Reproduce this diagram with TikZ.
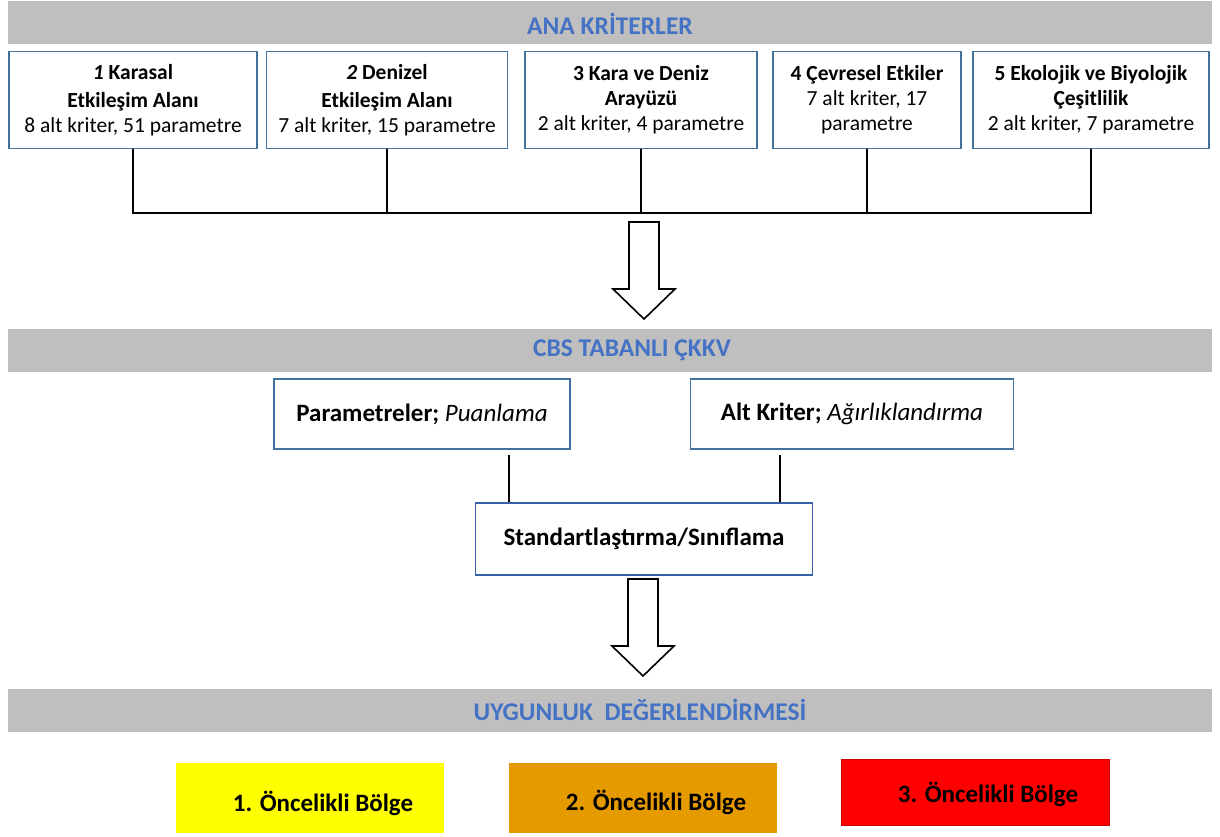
\documentclass[tikz,border=0pt]{standalone}
\usepackage{fontspec}
\setmainfont{Carlito}
\usetikzlibrary{positioning}
\definecolor{barGray}{HTML}{BFBFBF}
\definecolor{headBlue}{HTML}{4472C4}
\definecolor{edgeBlue}{HTML}{41719C}
\definecolor{zoneYellow}{HTML}{FFFF00}
\definecolor{zoneOrange}{HTML}{E59A00}
\definecolor{zoneRed}{HTML}{FF0000}
\tikzset{
  bar/.style={fill=barGray, minimum width=1204pt, minimum height=43pt},
  headtext/.style={text=headBlue, font=\fontsize{25.5}{28}\selectfont\bfseries},
  critbox/.style={draw=edgeBlue, line width=1.6pt, fill=white, align=center,
    minimum height=97pt, inner sep=2pt, font=\fontsize{21.5}{25}\selectfont},
  mcdabox/.style={draw=edgeBlue, line width=1.6pt, minimum height=70pt,
    font=\fontsize{25}{28}\selectfont},
  zone/.style={minimum width=268pt, minimum height=70pt},
  zonetext/.style={font=\fontsize{25}{28}\selectfont\bfseries, xshift=13pt},
  link/.style={line width=1.8pt},
  hollow/.style={draw, line width=1.6pt, fill=white, line join=miter}
}
\begin{document}
\begin{tikzpicture}[x=1pt,y=-1pt]
  \useasboundingbox (0,0) rectangle (1220,836);
  % headers
  \node[bar, label={[headtext, yshift=-2pt]center:ANA KRİTERLER}] (anakrit) at (610,22) {};
  \node[bar, label={[headtext, xshift=22pt]center:CBS TABANLI ÇKKV}] (cbs) at (610,350) {};
  \node[bar, label={[headtext, xshift=30pt]center:UYGUNLUK\ \ DEĞERLENDİRMESİ}] (uyg) at (610,710) {};
  % main criteria
  \foreach \t/\x/\w [count=\i] in {
    {\textbf{\textit{1} Karasal}\\[3pt]\textbf{Etkileşim\ Alanı}\\ 8 alt kriter, 51 parametre}/133/248,
    {\textbf{\textit{2} Denizel}\\[3pt]\textbf{Etkileşim\ Alanı}\\ 7 alt kriter, 15 parametre}/387/241,
    {\textbf{3 Kara ve Deniz}\\ \textbf{Arayüzü}\\ 2 alt kriter, 4 parametre}/641/232,
    {\textbf{4 Çevresel\ Etkiler}\\ 7 alt kriter, 17\\ parametre}/867/188,
    {\textbf{5 Ekolojik ve Biyolojik}\\ \textbf{Çeşitlilik}\\ 2 alt kriter, 7 parametre}/1091/236}
  {\node[critbox, minimum width=\w pt] (k\i) at (\x,100) {\t};}
  \coordinate (bus) at (641,213);
  \draw[link] (k1.south) |- (bus) -| (k5.south);
  \foreach \i in {2,3,4}
    \draw[link] (k\i.south) -- (k\i.south |- bus);
  % mcda steps
  \node[mcdabox, minimum width=296pt] (param) at (422,414) {\textbf{Parametreler;} \textit{Puanlama}};
  \node[mcdabox, minimum width=323pt] (agirlik) at (852,414) {\textbf{Alt Kriter;} \textit{Ağırlıklandırma}};
  \node[mcdabox, minimum width=337pt, minimum height=72pt, draw=headBlue!85!black, line width=1.2pt]
    (stand) at (644,539) {\textbf{Standartlaştırma/Sınıflama}};
  \draw[link, line width=1.5pt] ([xshift=34pt]stand.north west) -- ++(0,-47);
  \draw[link, line width=1.5pt] ([xshift=-33pt]stand.north east) -- ++(0,-47);
  % hollow arrows
  \foreach \top in {(644,222), (643,579)}
    \draw[hollow] \top ++(-15,0) -- ++(30,0) -- ++(0,67) -- ++(16,0)
      -- ++(-31,30) -- ++(-31,-30) -- ++(16,0) -- cycle;
  % priority zones
  \node[zone, fill=zoneYellow, label={[zonetext, yshift=-5pt]center:1. Öncelikli Bölge}] (z1) at (310,798) {};
  \node[zone, fill=zoneOrange, label={[zonetext, yshift=-4pt]center:2. Öncelikli Bölge}] (z2) at (643,798) {};
  \node[zone, fill=zoneRed, draw=red!80!black, minimum height=66pt,
    label={[zonetext, yshift=-2pt]center:3. Öncelikli Bölge}] (z3) at (975,792) {};
\end{tikzpicture}
\end{document}
